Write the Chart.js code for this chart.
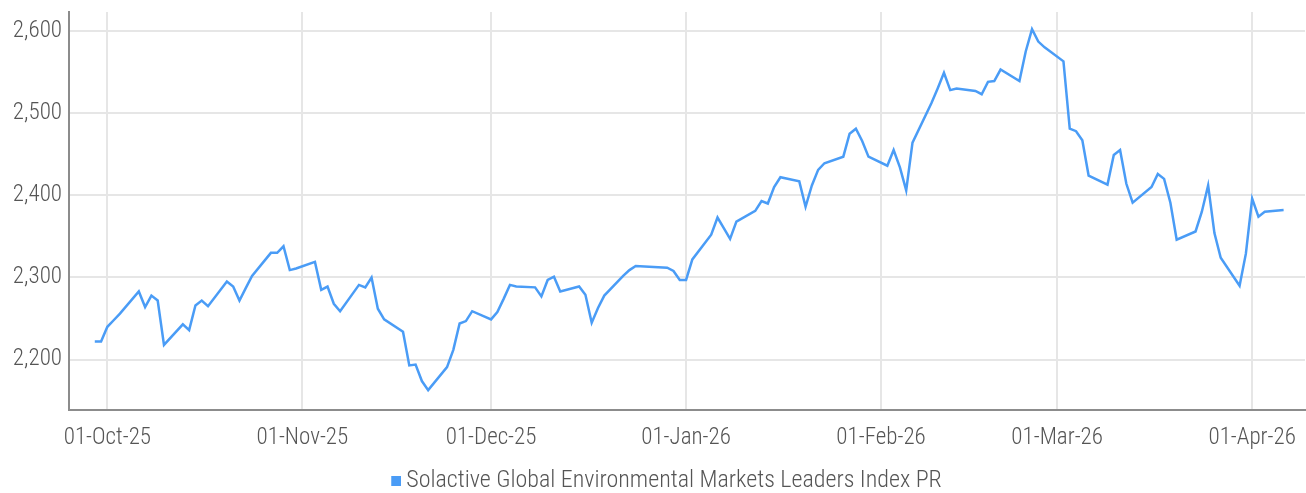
<!DOCTYPE html>
<html><head><meta charset="utf-8">
<script src="https://cdn.jsdelivr.net/npm/chart.js@4/dist/chart.umd.min.js"></script>
<style>html,body{margin:0;padding:0;background:#fff;overflow:hidden}</style>
</head><body>
<canvas id="c" width="1306" height="493"></canvas>
<script>
// ---- data ----
const seriesName = 'Solactive Global Environmental Markets Leaders Index PR';
const dates = [
'2025-09-29','2025-09-30','2025-10-01','2025-10-02','2025-10-03',
'2025-10-06','2025-10-07','2025-10-08','2025-10-09','2025-10-10',
'2025-10-13','2025-10-14','2025-10-15','2025-10-16','2025-10-17',
'2025-10-20','2025-10-21','2025-10-22','2025-10-23','2025-10-24',
'2025-10-27','2025-10-28','2025-10-29','2025-10-30','2025-10-31',
'2025-11-03','2025-11-04','2025-11-05','2025-11-06','2025-11-07',
'2025-11-10','2025-11-11','2025-11-12','2025-11-13','2025-11-14',
'2025-11-17','2025-11-18','2025-11-19','2025-11-20','2025-11-21',
'2025-11-24','2025-11-25','2025-11-26','2025-11-27','2025-11-28',
'2025-12-01','2025-12-02','2025-12-03','2025-12-04','2025-12-05',
'2025-12-08','2025-12-09','2025-12-10','2025-12-11','2025-12-12',
'2025-12-15','2025-12-16','2025-12-17','2025-12-18','2025-12-19',
'2025-12-22','2025-12-23','2025-12-24',
'2025-12-29','2025-12-30','2025-12-31','2026-01-01','2026-01-02',
'2026-01-05','2026-01-06','2026-01-07','2026-01-08','2026-01-09',
'2026-01-12','2026-01-13','2026-01-14','2026-01-15','2026-01-16',
'2026-01-19','2026-01-20','2026-01-21','2026-01-22','2026-01-23',
'2026-01-26','2026-01-27','2026-01-28','2026-01-29','2026-01-30',
'2026-02-02','2026-02-03','2026-02-04','2026-02-05','2026-02-06',
'2026-02-09','2026-02-10','2026-02-11','2026-02-12','2026-02-13',
'2026-02-16','2026-02-17','2026-02-18','2026-02-19','2026-02-20',
'2026-02-23','2026-02-24','2026-02-25','2026-02-26','2026-02-27',
'2026-03-02','2026-03-03','2026-03-04','2026-03-05','2026-03-06',
'2026-03-09','2026-03-10','2026-03-11','2026-03-12','2026-03-13',
'2026-03-16','2026-03-17','2026-03-18','2026-03-19','2026-03-20',
'2026-03-23','2026-03-24','2026-03-25','2026-03-26','2026-03-27',
'2026-03-30','2026-03-31','2026-04-01','2026-04-02','2026-04-03',
'2026-04-06'
];
const values = [
2222,2222,2240,2248,2256,
2283,2264,2278,2272,2218,
2243,2236,2266,2272,2265,
2295,2289,2272,2287,2302,
2330,2330,2338,2309,2311,
2319,2285,2289,2268,2259,
2291,2288,2300,2262,2249,
2234,2193,2194,2174,2163,
2191,2212,2244,2247,2259,
2249,2258,2274,2291,2289,
2288,2277,2297,2301,2283,
2289,2279,2245,2263,2278,
2302,2309,2314,
2312,2308,2297,2297,2322,
2352,2373,2360,2347,2368,
2381,2393,2390,2410,2422,
2417,2386,2412,2431,2439,
2447,2475,2481,2466,2447,
2436,2455,2434,2406,2464,
2512,2530,2549,2528,2530,
2527,2523,2538,2539,2553,
2539,2575,2602,2587,2580,
2563,2481,2478,2467,2424,
2413,2449,2455,2414,2391,
2410,2426,2420,2391,2346,
2356,2380,2412,2354,2324,
2290,2329,2396,2374,2380,
2382
];
const tickDates = ['2025-10-01','2025-11-01','2025-12-01','2026-01-01','2026-02-01','2026-03-01','2026-04-01'];
const tickLabels = ['01-Oct-25','01-Nov-25','01-Dec-25','01-Jan-26','01-Feb-26','01-Mar-26','01-Apr-26'];
const yTicks = [2200,2300,2400,2500,2600];

// ---- helpers ----
const ORIGIN = Date.UTC(2025,9,1);
const dayOf = s => { const [y,m,d] = s.split('-').map(Number); return (Date.UTC(y,m-1,d)-ORIGIN)/86400000; };
const points = dates.map((d,i)=>({x:dayOf(d), y:values[i]}));
const tickDays = tickDates.map(dayOf);
const labelByDay = {}; tickDays.forEach((d,i)=>labelByDay[d]=tickLabels[i]);

const FONT = '"Roboto Condensed", Roboto, "Liberation Sans", sans-serif';
const WEIGHT = '300';
const TEXT = '#555555';
const GRID = '#e6e6e6';
const AXIS = '#8c8c8c';
const BLUE = '#4a9cf6';

// legend marker: 10x10 square placed close to the label text
const marker = document.createElement('canvas');
marker.width = 24; marker.height = 10;
(() => { const c = marker.getContext('2d'); c.fillStyle = BLUE; c.fillRect(14, 0, 10, 10); })();

const legendShift = { id: 'legendShift', afterLayout(chart) { if (chart.legend) chart.legend.left += 21; } };

new Chart(document.getElementById('c'), {
  type: 'line',
  data: { datasets: [{
    label: seriesName, data: points,
    borderColor: BLUE, backgroundColor: BLUE, borderWidth: 2.5,
    pointRadius: 0, pointHoverRadius: 0, tension: 0, fill: false
  }]},
  plugins: [legendShift],
  options: {
    responsive: false, animation: false, devicePixelRatio: 1,
    layout: { padding: { top: 12, right: 1, left: 0, bottom: -10 } },
    plugins: {
      tooltip: { enabled: false },
      legend: {
        position: 'bottom',
        labels: {
          usePointStyle: true, boxWidth: 10, boxHeight: 10, padding: 10, color: TEXT,
          font: { size: 24, family: FONT, weight: WEIGHT },
          generateLabels: (chart) => Chart.defaults.plugins.legend.labels.generateLabels(chart)
            .map(l => Object.assign(l, {lineWidth: 0, pointStyle: marker}))
        }
      }
    },
    scales: {
      x: {
        type: 'linear', min: -6.1, max: 190.4,
        afterBuildTicks: s => { s.ticks = tickDays.map(v=>({value:v})); },
        afterFit: s => { s.height = 49; s.paddingLeft = 0; s.paddingRight = 0; },
        grid: { color: GRID, lineWidth: 2, drawTicks: false },
        border: { display: true, color: AXIS, width: 2 },
        ticks: { color: TEXT, padding: 14, font: { size: 23, family: FONT, weight: WEIGHT }, maxRotation: 0, autoSkip: false,
          callback: v => labelByDay[v] || '' }
      },
      y: {
        type: 'linear', min: 2138.8, max: 2623,
        afterBuildTicks: s => { s.ticks = yTicks.map(v=>({value:v})); },
        afterFit: s => { s.width = 69; s.paddingTop = 0; s.paddingBottom = 0; },
        grid: { color: GRID, lineWidth: 2, drawTicks: false },
        border: { display: true, color: AXIS, width: 2 },
        ticks: { color: TEXT, padding: 7, font: { size: 23, family: FONT, weight: WEIGHT },
          callback: v => Number(v).toLocaleString('en-US') }
      }
    }
  }
});
</script>
</body></html>
